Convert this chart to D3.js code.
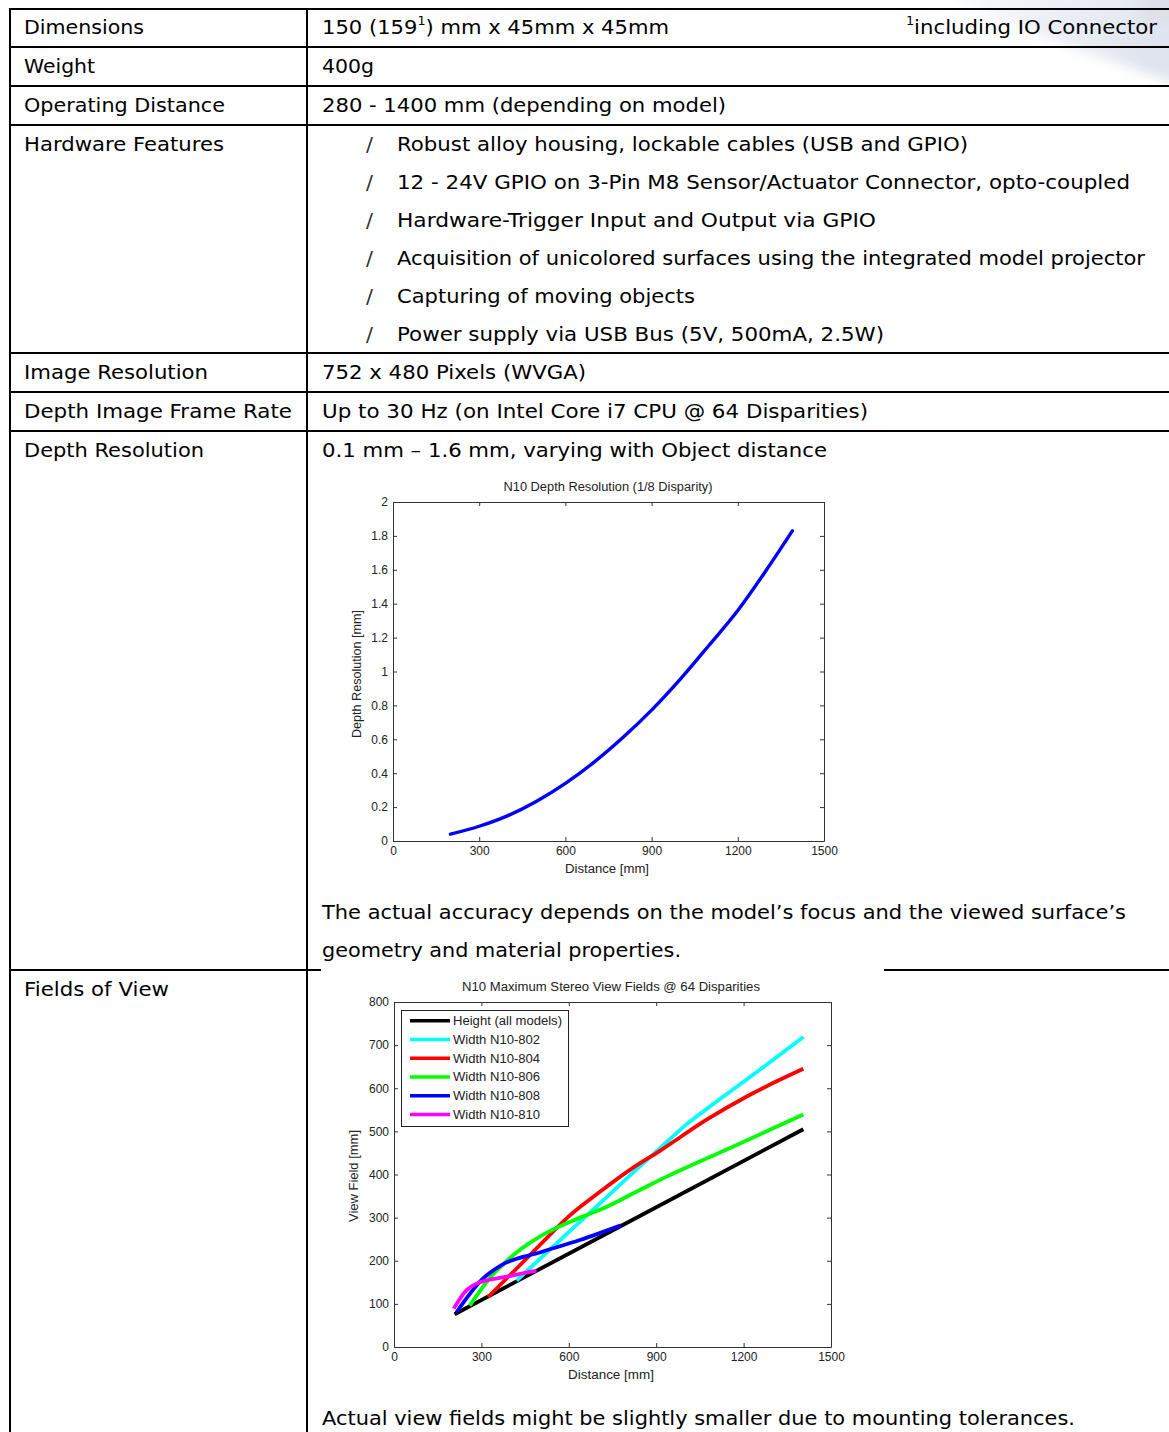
<!DOCTYPE html>
<html><head><meta charset="utf-8">
<script src="https://cdn.jsdelivr.net/npm/d3@7"></script>
<style>html,body{margin:0;padding:0;background:#fff}svg{display:block}</style>
</head><body><svg id="page" width="1169" height="1432"></svg>
<script>
// ================= DATA =================
const rowLabels = ["Dimensions", "Weight", "Operating Distance", "Hardware Features",
  "Image Resolution", "Depth Image Frame Rate", "Depth Resolution", "Fields of View"];
const dimensionsParts = ["150 (159", "1", ") mm x 45mm x 45mm"];
const footnoteParts = ["1", "including IO Connector"];
const weightText = "400g";
const distanceText = "280 - 1400 mm (depending on model)";
const featureList = [
  "Robust alloy housing, lockable cables (USB and GPIO)",
  "12 - 24V GPIO on 3-Pin M8 Sensor/Actuator Connector, opto-coupled",
  "Hardware-Trigger Input and Output via GPIO",
  "Acquisition of unicolored surfaces using the integrated model projector",
  "Capturing of moving objects",
  "Power supply via USB Bus (5V, 500mA, 2.5W)"
];
const bulletGlyph = "/";
const imageResText = "752 x 480 Pixels (WVGA)";
const frameRateText = "Up to 30 Hz (on Intel Core i7 CPU @ 64 Disparities)";
const depthResText = "0.1 mm \u2013 1.6 mm, varying with Object distance";
const accuracyNote = ["The actual accuracy depends on the model\u2019s focus and the viewed surface\u2019s",
  "geometry and material properties."];
const viewNote = "Actual view fields might be slightly smaller due to mounting tolerances.";

// Chart 1: depth resolution
const depthTitle = "N10 Depth Resolution (1/8 Disparity)";
const depthXLabel = "Distance [mm]";
const depthYLabel = "Depth Resolution [mm]";
const depthXTicks = [0, 300, 600, 900, 1200, 1500];
const depthYTicks = [0, 0.2, 0.4, 0.6, 0.8, 1, 1.2, 1.4, 1.6, 1.8, 2];
const depthDistance   = [200, 300, 400, 500, 600, 700, 800, 900, 1000, 1100, 1200, 1300, 1390];
const depthResolution = [0.04, 0.087, 0.15, 0.235, 0.34, 0.465, 0.61, 0.772, 0.955, 1.155, 1.36, 1.6, 1.83];

// Chart 2: view fields
const viewTitle = "N10 Maximum Stereo View Fields @ 64 Disparities";
const viewXLabel = "Distance [mm]";
const viewYLabel = "View Field [mm]";
const viewXTicks = [0, 300, 600, 900, 1200, 1500];
const viewYTicks = [0, 100, 200, 300, 400, 500, 600, 700, 800];
const seriesNames = ["Height (all models)", "Width N10-802", "Width N10-804", "Width N10-806", "Width N10-808", "Width N10-810"];
const heightDist = [208, 800, 1405];
const heightVal  = [76, 288, 505];
const w802Dist = [421, 535, 707, 844, 907, 1000, 1073, 1222, 1405];
const w802Val  = [154, 226, 333, 419, 457, 514, 552, 626, 719];
const w804Dist = [323, 421, 500, 600, 707, 821, 913, 1073, 1222, 1405];
const w804Val  = [116, 182, 236, 303, 360, 416, 455, 527, 585, 645];
const w806Dist = [260, 329, 397, 500, 638, 707, 844, 936, 1165, 1405];
const w806Val  = [96, 160, 206, 256, 300, 318, 364, 395, 465, 539];
const w808Dist = [214, 306, 369, 500, 638, 779];
const w808Val  = [80, 159, 190, 219, 248, 282];
const w810Dist = [205, 249, 283, 386, 489];
const w810Val  = [89, 132, 147, 163, 177];

// ================= STYLES / LAYOUT =================
const seriesColors = ["#000000", "#00ffff", "#ff0000", "#00ff00", "#0000ff", "#ff00ff"];
const bodyFont = "'DejaVu Sans', Verdana, sans-serif";
const chartFont = "'Liberation Sans', Arial, Helvetica, sans-serif";
const textColor = "#222";

const svg = d3.select("#page");

// faint background swoosh at top right
const defs = svg.append("defs");
const lg = defs.append("linearGradient").attr("id", "sw").attr("x1", 0).attr("y1", 0).attr("x2", 1).attr("y2", 0.3);
lg.append("stop").attr("offset", 0).attr("stop-color", "#eef1f6").attr("stop-opacity", 0);
lg.append("stop").attr("offset", 0.4).attr("stop-color", "#eef1f6").attr("stop-opacity", 0.9);
lg.append("stop").attr("offset", 1).attr("stop-color", "#dfe4ee").attr("stop-opacity", 1);
defs.append("filter").attr("id", "blur").attr("x", "-20%").attr("y", "-20%").attr("width", "140%").attr("height", "140%")
  .append("feGaussianBlur").attr("stdDeviation", 6);
const sw = svg.append("g").attr("filter", "url(#blur)");
sw.append("path").attr("d", "M930,-10 L1180,-10 L1180,85 Q1120,64 1080,50 Q1000,22 930,-10 Z").attr("fill", "url(#sw)");
sw.append("circle").attr("cx", 1158).attr("cy", 2).attr("r", 24).attr("fill", "#d4d8e0").attr("opacity", 0.35);

// ---------- table ----------
const lineColor = "#000";
const hLines = [9, 47, 86, 125, 353, 392, 431];
hLines.forEach(y => svg.append("line").attr("x1", 9).attr("x2", 1169).attr("y1", y).attr("y2", y)
  .attr("stroke", lineColor).attr("stroke-width", 2));
svg.append("line").attr("x1", 9).attr("x2", 321).attr("y1", 970).attr("y2", 970).attr("stroke", lineColor).attr("stroke-width", 2);
svg.append("line").attr("x1", 884).attr("x2", 1169).attr("y1", 970).attr("y2", 970).attr("stroke", lineColor).attr("stroke-width", 2);
svg.append("line").attr("x1", 10).attr("x2", 10).attr("y1", 8).attr("y2", 1432).attr("stroke", lineColor).attr("stroke-width", 2);
svg.append("line").attr("x1", 307).attr("x2", 307).attr("y1", 8).attr("y2", 1432).attr("stroke", lineColor).attr("stroke-width", 2);

function bodyText(x, y, s, w, size) {
  const t = svg.append("text").attr("x", x).attr("y", y).text(s)
    .attr("font-family", bodyFont).attr("font-size", size || 20).attr("fill", "#000");
  if (w) t.attr("textLength", w).attr("lengthAdjust", "spacingAndGlyphs");
  return t;
}
function supText(x, y, parts, supFirst, w) {
  const t = svg.append("text").attr("x", x).attr("y", y)
    .attr("font-family", bodyFont).attr("font-size", 20).attr("fill", "#000");
  parts.forEach((p, i) => {
    const isSup = supFirst ? i === 0 : i === 1;
    const ts = t.append("tspan").text(p);
    if (isSup) ts.attr("font-size", 12).attr("dy", -9);
    else if (i > 0) ts.attr("dy", 9);
  });
  if (w) t.attr("textLength", w).attr("lengthAdjust", "spacingAndGlyphs");
  return t;
}

const labelBaselines = [34, 73, 112, 151, 379, 418, 457, 996];
const labelWidths = [120, 71, 201, 200, 184, 268, 180, 145];
rowLabels.forEach((s, i) => bodyText(24, labelBaselines[i], s, labelWidths[i]));

supText(322, 34, dimensionsParts, false, 347);
supText(906, 34, footnoteParts, true, 251);

bodyText(322, 73, weightText, 52);
bodyText(322, 112, distanceText, 404);

const featWidths = [571, 733, 479, 748, 298, 487];
featureList.forEach((s, i) => {
  const y = 151 + i * 38;
  bodyText(366, y, bulletGlyph, 7).attr("fill", "#333");
  bodyText(397, y, s, featWidths[i]);
});

bodyText(322, 379, imageResText, 264);
bodyText(322, 418, frameRateText, 546);
bodyText(322, 457, depthResText, 505);
bodyText(322, 919, accuracyNote[0], 804);
bodyText(322, 957, accuracyNote[1], 359);
bodyText(322, 1425, viewNote, 753);

// ---------- chart helper ----------
function matlabAxes(g, x, y, xTicks, yTicks, yFmt) {
  const [x0, x1] = x.range(), [y0, y1] = y.range();
  const ax = g.append("g");
  const styleAxis = sel => {
    sel.selectAll("path.domain").attr("stroke", "#333").attr("stroke-width", 1);
    sel.selectAll(".tick line").attr("stroke", "#333");
    sel.selectAll("text").attr("font-family", chartFont).attr("font-size", 12).attr("fill", textColor);
  };
  ax.append("g").attr("transform", `translate(0,${y0})`)
    .call(d3.axisBottom(x).tickValues(xTicks).tickSizeInner(-4).tickSizeOuter(0).tickPadding(5).tickFormat(d3.format("d")))
    .call(styleAxis);
  ax.append("g").attr("transform", `translate(0,${y1})`)
    .call(d3.axisTop(x).tickValues(xTicks).tickSizeInner(-4).tickSizeOuter(0).tickFormat(""))
    .call(styleAxis);
  ax.append("g").attr("transform", `translate(${x0},0)`)
    .call(d3.axisLeft(y).tickValues(yTicks).tickSizeInner(-4).tickSizeOuter(0).tickPadding(5).tickFormat(yFmt))
    .call(styleAxis);
  ax.append("g").attr("transform", `translate(${x1},0)`)
    .call(d3.axisRight(y).tickValues(yTicks).tickSizeInner(-4).tickSizeOuter(0).tickFormat(""))
    .call(styleAxis);
}
function chartText(g, x, y, s, w, rotate) {
  const t = g.append("text").attr("x", x).attr("y", y).text(s)
    .attr("font-family", chartFont).attr("font-size", 12.5).attr("fill", textColor).attr("text-anchor", "middle");
  if (w) t.attr("textLength", w).attr("lengthAdjust", "spacingAndGlyphs");
  if (rotate) t.attr("transform", `rotate(-90,${x},${y})`);
  return t;
}

// ---------- chart 1 ----------
{
  const g = svg.append("g");
  g.append("rect").attr("x", 320).attr("y", 470).attr("width", 540).attr("height", 410).attr("fill", "#fff");
  const x = d3.scaleLinear().domain([0, 1500]).range([393, 824]);
  const y = d3.scaleLinear().domain([0, 2]).range([841, 502]);
  matlabAxes(g, x, y, depthXTicks, depthYTicks, d => String(+d.toFixed(1)));
  const pts = depthDistance.map((d, i) => [d, depthResolution[i]]);
  g.append("path").datum(pts)
    .attr("d", d3.line().x(d => x(d[0])).y(d => y(d[1])).curve(d3.curveMonotoneX))
    .attr("fill", "none").attr("stroke", "#0000ff").attr("stroke-width", 3.4).attr("stroke-linecap", "round");
  chartText(g, 608, 491, depthTitle, 209);
  chartText(g, 607, 873, depthXLabel, 84);
  chartText(g, 361, 674, depthYLabel, 128, true);
}

// ---------- chart 2 ----------
{
  const g = svg.append("g");
  g.append("rect").attr("x", 321).attr("y", 972).attr("width", 563).attr("height", 418).attr("fill", "#fff");
  const x = d3.scaleLinear().domain([0, 1500]).range([394, 831]);
  const y = d3.scaleLinear().domain([0, 800]).range([1347, 1002]);
  matlabAxes(g, x, y, viewXTicks, viewYTicks, d3.format("d"));
  const series = [
    [heightDist, heightVal], [w802Dist, w802Val], [w804Dist, w804Val],
    [w806Dist, w806Val], [w808Dist, w808Val], [w810Dist, w810Val]
  ];
  const line = d3.line().x(d => x(d[0])).y(d => y(d[1])).curve(d3.curveMonotoneX);
  series.forEach(([xs, ys], i) => {
    g.append("path").datum(xs.map((d, j) => [d, ys[j]]))
      .attr("d", line).attr("fill", "none").attr("stroke", seriesColors[i])
      .attr("stroke-width", 3.8).attr("stroke-linejoin", "round");
  });
  const lg2 = g.append("g");
  lg2.append("rect").attr("x", 401.5).attr("y", 1010.5).attr("width", 167).attr("height", 116)
    .attr("fill", "#fff").attr("stroke", "#222").attr("stroke-width", 1);
  const legendWidths = [109, 87, 87, 87, 87, 87];
  seriesNames.forEach((s, i) => {
    const yy = 1020.7 + i * 18.75;
    lg2.append("line").attr("x1", 410).attr("x2", 450).attr("y1", yy).attr("y2", yy)
      .attr("stroke", seriesColors[i]).attr("stroke-width", 3.6);
    lg2.append("text").attr("x", 453).attr("y", yy + 4.5).text(s)
      .attr("font-family", chartFont).attr("font-size", 12.5).attr("fill", textColor)
      .attr("textLength", legendWidths[i]).attr("lengthAdjust", "spacingAndGlyphs");
  });
  chartText(g, 611, 991, viewTitle, 298);
  chartText(g, 611, 1379, viewXLabel, 86);
  chartText(g, 358, 1176, viewYLabel, 92, true);
}
</script>
</body></html>
